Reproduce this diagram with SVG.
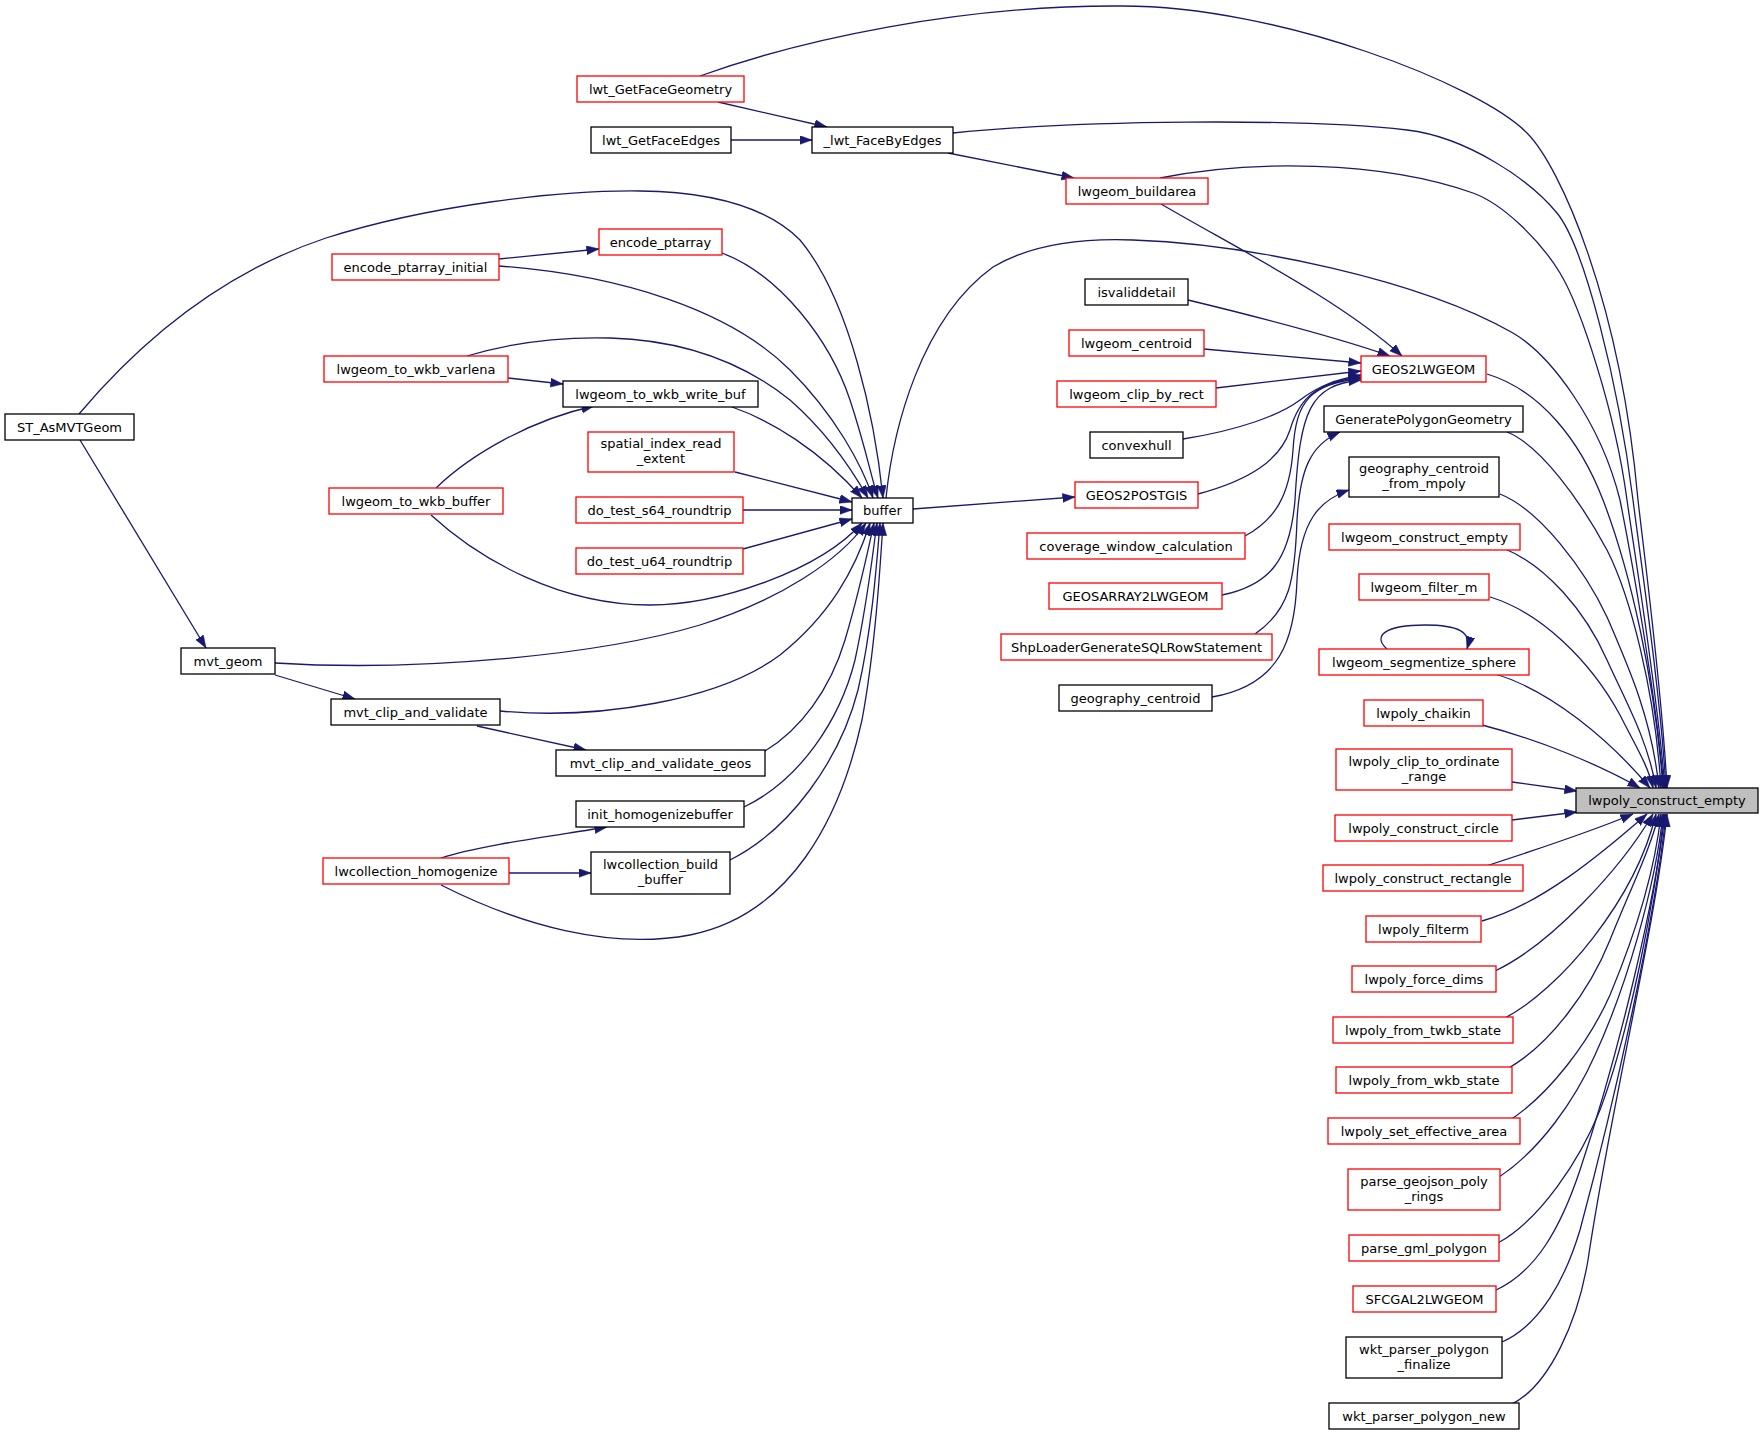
<svg xmlns="http://www.w3.org/2000/svg" width="1763" height="1438" viewBox="0 0 1763 1438">
<style>
.n rect{fill:#fff;stroke:#000;stroke-width:1.3}
.n.r rect{stroke:#f00}
.n.root rect{fill:#bfbfbf;stroke:#000}
.n text{font-family:"DejaVu Sans","Liberation Sans",sans-serif;font-size:13px;text-anchor:middle;fill:#000}
#edges path{fill:none;stroke:#191970;stroke-width:1.3;marker-end:url(#ah)}
</style>
<defs>
<marker id="ah" markerUnits="userSpaceOnUse" markerWidth="14" markerHeight="10" refX="12.5" refY="4.5" orient="auto">
<path d="M0,0 L12.5,4.5 L0,9 z" fill="#191970" stroke="#191970" stroke-width="0.5"/>
</marker>
</defs>
<rect width="1763" height="1438" fill="#fff"/>
<g id="edges">
<path d="M700,76 C800,40 960,5 1122,6 C1280,6 1480,85 1527,133 C1560,166 1620,300 1638,500 C1646,570 1662,690 1667,788"/>
<path d="M953,133 C1080,120 1300,118 1407,130 C1467,137 1530,180 1557,213 C1584,246 1618,380 1633,500 C1642,570 1660,690 1666,788"/>
<path d="M1160,178 C1250,160 1380,160 1473,193 C1503,204 1540,240 1560,273 C1580,306 1615,410 1627,500 C1637,570 1657,690 1665,788"/>
<path d="M886,498 C893,430 920,320 993,267 C1030,245 1080,238 1133,240 C1250,244 1420,280 1513,333 C1550,355 1600,420 1620,500 C1632,560 1655,690 1664,788"/>
<path d="M1487,374 C1540,390 1580,440 1603,500 C1630,570 1655,680 1663,788"/>
<path d="M1507,432 C1540,445 1580,500 1607,550 C1630,595 1655,690 1661,788"/>
<path d="M1500,494 C1540,510 1585,570 1607,617 C1630,670 1652,720 1659,788"/>
<path d="M1505,549 C1545,565 1585,610 1607,660 C1625,700 1648,740 1656,788"/>
<path d="M1490,597 C1540,612 1590,660 1620,715 C1635,745 1648,765 1653,788"/>
<path d="M1495,674 C1550,690 1610,740 1650,788"/>
<path d="M1482,725 C1540,740 1600,765 1640,788"/>
<path d="M1512,782 L1577,791"/>
<path d="M1512,820 L1577,812"/>
<path d="M1483,867 C1520,855 1590,832 1633,814"/>
<path d="M1482,921 C1540,905 1600,855 1647,814"/>
<path d="M1495,971 C1550,945 1620,870 1653,814"/>
<path d="M1503,1019 C1560,990 1635,900 1656,814"/>
<path d="M1507,1069 C1550,1045 1590,990 1610,940 C1630,890 1650,850 1659,814"/>
<path d="M1507,1122 C1550,1095 1590,1040 1610,995 C1635,935 1655,870 1661,814"/>
<path d="M1499,1177 C1540,1150 1575,1100 1595,1055 C1625,990 1655,890 1663,814"/>
<path d="M1498,1243 C1540,1220 1580,1160 1600,1110 C1630,1030 1655,900 1664,814"/>
<path d="M1496,1290 C1535,1272 1560,1230 1580,1170 C1620,1050 1655,900 1665,814"/>
<path d="M1502,1342 C1540,1325 1565,1280 1580,1230 C1615,1100 1655,920 1666,814"/>
<path d="M1512,1404 C1550,1385 1578,1320 1588,1260 C1610,1110 1655,930 1667,814"/>
<path d="M1387,649 C1372,636 1385,625 1425,625 C1458,625 1472,632 1467,649"/>
<path d="M1161,204 C1240,250 1340,300 1402,356"/>
<path d="M1188,300 C1250,315 1330,335 1390,356"/>
<path d="M1204,349 L1361,363"/>
<path d="M1216,388 L1361,371"/>
<path d="M1183,439 C1240,430 1280,415 1300,400 C1320,385 1335,380 1361,375"/>
<path d="M1198,494 C1250,480 1280,460 1290,430 C1300,395 1320,382 1361,377"/>
<path d="M1245,536 C1275,520 1290,495 1293,450 C1296,400 1310,385 1361,378"/>
<path d="M1222,595 C1270,585 1290,560 1295,500 C1300,410 1310,385 1361,380"/>
<path d="M1255,634 C1290,610 1295,580 1297,520 C1300,470 1310,445 1340,432"/>
<path d="M1212,697 C1280,685 1295,640 1297,580 C1300,520 1320,500 1349,490"/>
<path d="M913,509 L1075,497"/>
<path d="M79,414 C150,330 230,270 326,238 C430,205 560,190 640,191 C720,192 770,210 800,240 C850,300 875,420 883,498"/>
<path d="M722,253 C780,275 830,340 850,400 C865,445 872,480 878,498"/>
<path d="M499,266 C620,275 730,310 790,370 C835,415 862,465 873,498"/>
<path d="M467,356 C520,340 570,337 610,338 C680,340 740,360 790,400 C830,435 855,475 868,498"/>
<path d="M732,407 C770,420 820,450 862,498"/>
<path d="M735,472 L852,502"/>
<path d="M743,510 L852,510"/>
<path d="M743,549 L852,519"/>
<path d="M431,515 C480,560 560,605 650,605 C720,605 820,570 862,523"/>
<path d="M275,663 C420,672 600,655 700,625 C780,600 840,560 866,523"/>
<path d="M500,711 C600,720 720,700 780,655 C830,615 855,570 870,523"/>
<path d="M765,751 C800,730 830,690 845,640 C860,590 868,550 874,523"/>
<path d="M744,807 C800,780 840,720 855,660 C868,600 873,550 877,523"/>
<path d="M730,860 C790,830 840,760 858,690 C872,630 877,560 880,523"/>
<path d="M441,885 C520,925 610,950 690,935 C790,915 840,820 862,720 C875,650 880,570 883,523"/>
<path d="M499,259 L599,249"/>
<path d="M718,102 L827,127"/>
<path d="M731,140 L812,140"/>
<path d="M948,153 L1074,178"/>
<path d="M508,378 L563,384"/>
<path d="M436,488 C470,455 530,420 594,406"/>
<path d="M80,440 L206,648"/>
<path d="M275,675 L355,699"/>
<path d="M477,726 L586,750"/>
<path d="M441,858 C480,845 560,835 607,827"/>
<path d="M509,873 L591,873"/>
</g>
<g id="n1" class="n r"><rect x="577" y="76" width="167" height="26"/><text x="660.5" y="93.5">lwt_GetFaceGeometry</text></g>
<g id="n2" class="n"><rect x="591" y="127" width="140" height="26"/><text x="661" y="144.5">lwt_GetFaceEdges</text></g>
<g id="n3" class="n"><rect x="812" y="127" width="141" height="26"/><text x="882.5" y="144.5">_lwt_FaceByEdges</text></g>
<g id="n4" class="n r"><rect x="1066" y="178" width="142" height="26"/><text x="1137" y="195.5">lwgeom_buildarea</text></g>
<g id="n5" class="n r"><rect x="599" y="229" width="123" height="26"/><text x="660.5" y="246.5">encode_ptarray</text></g>
<g id="n6" class="n r"><rect x="332" y="254" width="167" height="26"/><text x="415.5" y="271.5">encode_ptarray_initial</text></g>
<g id="n7" class="n r"><rect x="324" y="356" width="184" height="26"/><text x="416" y="373.5">lwgeom_to_wkb_varlena</text></g>
<g id="n8" class="n"><rect x="563" y="381" width="195" height="26"/><text x="660.5" y="398.5">lwgeom_to_wkb_write_buf</text></g>
<g id="n9" class="n"><rect x="5" y="414" width="129" height="26"/><text x="69.5" y="431.5">ST_AsMVTGeom</text></g>
<g id="n10" class="n r"><rect x="588" y="432" width="146" height="40"/><text x="661" y="448">spatial_index_read</text><text x="661" y="463">_extent</text></g>
<g id="n11" class="n r"><rect x="329" y="488" width="174" height="26"/><text x="416" y="505.5">lwgeom_to_wkb_buffer</text></g>
<g id="n12" class="n r"><rect x="576" y="497" width="167" height="26"/><text x="659.5" y="514.5">do_test_s64_roundtrip</text></g>
<g id="n13" class="n"><rect x="852" y="498" width="61" height="25"/><text x="882.5" y="515">buffer</text></g>
<g id="n14" class="n r"><rect x="576" y="548" width="167" height="26"/><text x="659.5" y="565.5">do_test_u64_roundtrip</text></g>
<g id="n15" class="n"><rect x="181" y="648" width="94" height="26"/><text x="228" y="665.5">mvt_geom</text></g>
<g id="n16" class="n"><rect x="331" y="699" width="169" height="26"/><text x="415.5" y="716.5">mvt_clip_and_validate</text></g>
<g id="n17" class="n"><rect x="556" y="750" width="209" height="26"/><text x="660.5" y="767.5">mvt_clip_and_validate_geos</text></g>
<g id="n18" class="n"><rect x="576" y="801" width="168" height="26"/><text x="660" y="818.5">init_homogenizebuffer</text></g>
<g id="n19" class="n r"><rect x="323" y="858" width="186" height="26"/><text x="416" y="875.5">lwcollection_homogenize</text></g>
<g id="n20" class="n"><rect x="591" y="852" width="139" height="42"/><text x="660.5" y="869">lwcollection_build</text><text x="660.5" y="884">_buffer</text></g>
<g id="n21" class="n"><rect x="1085" y="279" width="103" height="26"/><text x="1136.5" y="296.5">isvaliddetail</text></g>
<g id="n22" class="n r"><rect x="1069" y="330" width="135" height="26"/><text x="1136.5" y="347.5">lwgeom_centroid</text></g>
<g id="n23" class="n r"><rect x="1057" y="381" width="159" height="26"/><text x="1136.5" y="398.5">lwgeom_clip_by_rect</text></g>
<g id="n24" class="n"><rect x="1090" y="432" width="93" height="26"/><text x="1136.5" y="449.5">convexhull</text></g>
<g id="n25" class="n r"><rect x="1075" y="482" width="123" height="26"/><text x="1136.5" y="499.5">GEOS2POSTGIS</text></g>
<g id="n26" class="n r"><rect x="1027" y="533" width="218" height="26"/><text x="1136" y="550.5">coverage_window_calculation</text></g>
<g id="n27" class="n r"><rect x="1049" y="583" width="173" height="26"/><text x="1135.5" y="600.5">GEOSARRAY2LWGEOM</text></g>
<g id="n28" class="n r"><rect x="1001" y="634" width="271" height="26"/><text x="1136.5" y="651.5">ShpLoaderGenerateSQLRowStatement</text></g>
<g id="n29" class="n"><rect x="1059" y="685" width="153" height="26"/><text x="1135.5" y="702.5">geography_centroid</text></g>
<g id="n30" class="n r"><rect x="1361" y="356" width="125" height="26"/><text x="1423.5" y="373.5">GEOS2LWGEOM</text></g>
<g id="n31" class="n"><rect x="1324" y="406" width="199" height="26"/><text x="1423.5" y="423.5">GeneratePolygonGeometry</text></g>
<g id="n32" class="n"><rect x="1349" y="457" width="150" height="40"/><text x="1424" y="473">geography_centroid</text><text x="1424" y="488">_from_mpoly</text></g>
<g id="n33" class="n r"><rect x="1329" y="524" width="191" height="26"/><text x="1424.5" y="541.5">lwgeom_construct_empty</text></g>
<g id="n34" class="n r"><rect x="1359" y="574" width="130" height="26"/><text x="1424" y="591.5">lwgeom_filter_m</text></g>
<g id="n35" class="n r"><rect x="1319" y="649" width="210" height="26"/><text x="1424" y="666.5">lwgeom_segmentize_sphere</text></g>
<g id="n36" class="n r"><rect x="1364" y="700" width="119" height="26"/><text x="1423.5" y="717.5">lwpoly_chaikin</text></g>
<g id="n37" class="n r"><rect x="1336" y="749" width="176" height="41"/><text x="1424" y="765.5">lwpoly_clip_to_ordinate</text><text x="1424" y="780.5">_range</text></g>
<g id="n38" class="n r"><rect x="1335" y="815" width="177" height="26"/><text x="1423.5" y="832.5">lwpoly_construct_circle</text></g>
<g id="n39" class="n r"><rect x="1323" y="865" width="200" height="26"/><text x="1423" y="882.5">lwpoly_construct_rectangle</text></g>
<g id="n40" class="n r"><rect x="1366" y="916" width="115" height="26"/><text x="1423.5" y="933.5">lwpoly_filterm</text></g>
<g id="n41" class="n r"><rect x="1352" y="966" width="144" height="26"/><text x="1424" y="983.5">lwpoly_force_dims</text></g>
<g id="n42" class="n r"><rect x="1333" y="1017" width="180" height="26"/><text x="1423" y="1034.5">lwpoly_from_twkb_state</text></g>
<g id="n43" class="n r"><rect x="1336" y="1067" width="176" height="26"/><text x="1424" y="1084.5">lwpoly_from_wkb_state</text></g>
<g id="n44" class="n r"><rect x="1328" y="1118" width="192" height="26"/><text x="1424" y="1135.5">lwpoly_set_effective_area</text></g>
<g id="n45" class="n r"><rect x="1348" y="1169" width="152" height="41"/><text x="1424" y="1185.5">parse_geojson_poly</text><text x="1424" y="1200.5">_rings</text></g>
<g id="n46" class="n r"><rect x="1349" y="1235" width="150" height="26"/><text x="1424" y="1252.5">parse_gml_polygon</text></g>
<g id="n47" class="n r"><rect x="1353" y="1286" width="143" height="26"/><text x="1424.5" y="1303.5">SFCGAL2LWGEOM</text></g>
<g id="n48" class="n"><rect x="1346" y="1337" width="156" height="41"/><text x="1424" y="1353.5">wkt_parser_polygon</text><text x="1424" y="1368.5">_finalize</text></g>
<g id="n49" class="n"><rect x="1329" y="1403" width="190" height="26"/><text x="1424" y="1420.5">wkt_parser_polygon_new</text></g>
<g id="n50" class="n root"><rect x="1576" y="788" width="182" height="25"/><text x="1667" y="805">lwpoly_construct_empty</text></g>
</svg>
